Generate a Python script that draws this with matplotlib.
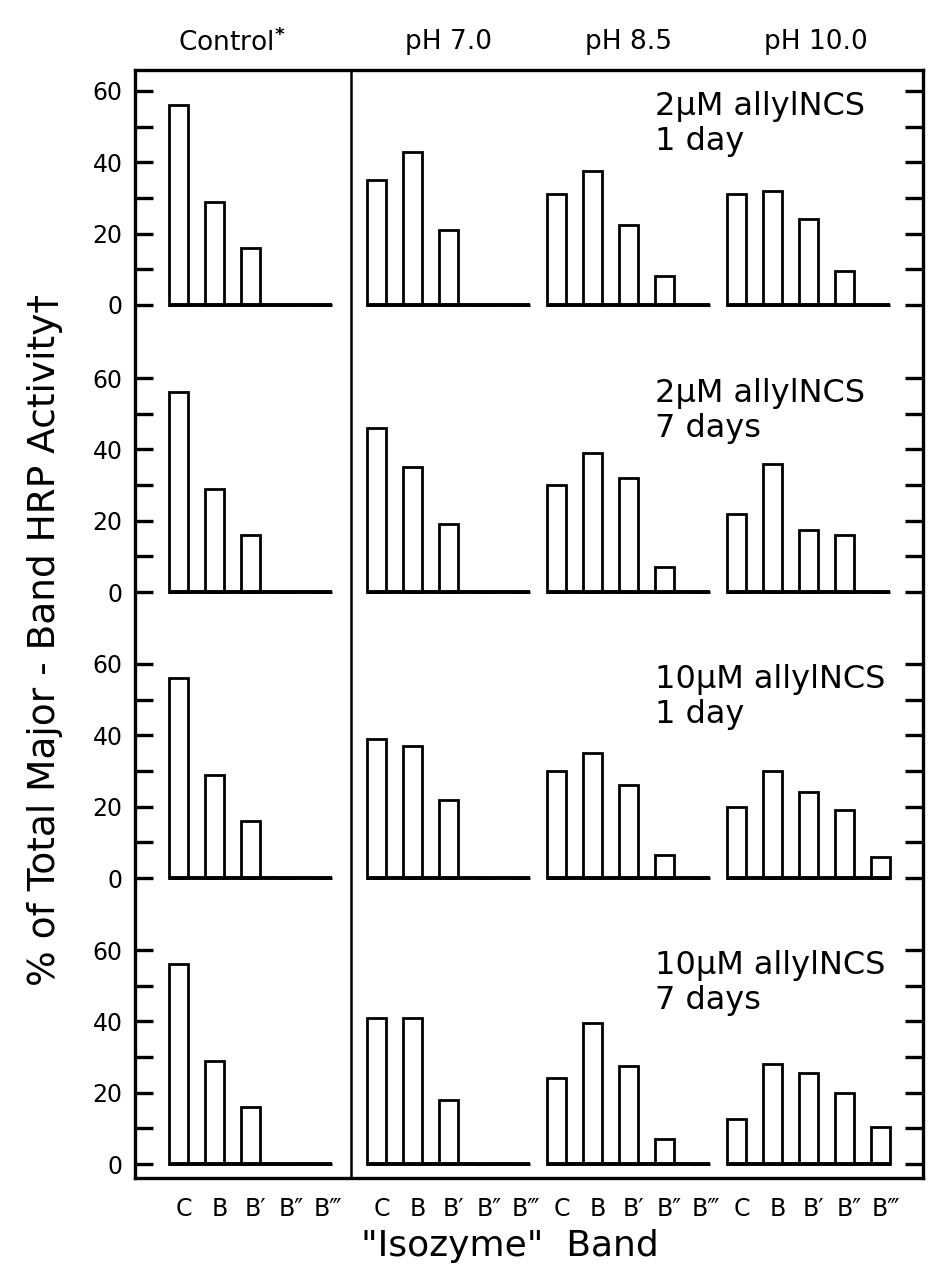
import numpy as np
import matplotlib.pyplot as plt
from matplotlib.transforms import blended_transform_factory

# band labels and column headers
bands = ["C", "B", "B\u2032", "B\u2033", "B\u2034"]
columns = ["Control$^{\\mathbf{*}}$", "pH 7.0", "pH 8.5", "pH 10.0"]
treatments = ["2\u03bcM allylNCS\n1 day", "2\u03bcM allylNCS\n7 days",
              "10\u03bcM allylNCS\n1 day", "10\u03bcM allylNCS\n7 days"]

# % of total major-band HRP activity, order C, B, B', B'', B'''
# control is the same in every row
control = [56, 29, 16, 0, 0]
# one row per treatment (same order as treatments)
ph70 = [[35, 43, 21, 0, 0],
        [46, 35, 19, 0, 0],
        [39, 37, 22, 0, 0],
        [41, 41, 18, 0, 0]]
ph85 = [[31, 37.5, 22.5, 8, 0],
        [30, 39, 32, 7, 0],
        [30, 35, 26, 6.5, 0],
        [24, 39.5, 27.5, 7, 0]]
ph100 = [[31, 32, 24, 9.5, 0],
         [22, 36, 17.5, 16, 0],
         [20, 30, 24, 19, 6],
         [12.5, 28, 25.5, 20, 10.5]]

W, H = 930, 1270
frame_l, frame_r, frame_t, frame_b = 135, 923, 70, 1178
row_zero = [305, 592, 878, 1164]   # pixel row of the 0 line in each panel
row_h = 214                        # pixels for 0..60
slot = 36.0                        # pixels per band slot
n_slots = (frame_r - frame_l) / slot
group_start = [1.2, 6.7, 11.7, 16.7]
header_x = [2.7, 8.7, 13.7, 18.9]
divider = 6.0
bar_w = 0.52


def fig_rect(l, t, r, b):
    return [l / W, 1 - b / H, (r - l) / W, (b - t) / H]


fig = plt.figure(figsize=(W / 100, H / 100), dpi=100)
fig.patch.set_facecolor("white")

# outer box with the divider after the control column
frame = fig.add_axes(fig_rect(frame_l, frame_t, frame_r, frame_b))
frame.set_xlim(0, n_slots)
frame.set_ylim(0, 1)
frame.set_xticks([])
frame.set_yticks([])
for s in frame.spines.values():
    s.set_linewidth(2.4)
frame.axvline(divider, color="black", lw=1.8)

trans = blended_transform_factory(frame.transData, frame.transAxes)
for g, name in enumerate(columns):
    frame.text(header_x[g], 1.025, name, transform=trans,
               ha="center", va="center", fontsize=19)

for i in range(4):
    z = row_zero[i]
    ax = fig.add_axes(fig_rect(frame_l, z - row_h, frame_r, z))
    ax.patch.set_alpha(0)
    ax.set_xlim(0, n_slots)
    ax.set_ylim(0, 60)
    for s in ax.spines.values():
        s.set_visible(False)

    groups = [control, ph70[i], ph85[i], ph100[i]]
    for g, vals in enumerate(groups):
        x = group_start[g] + np.arange(len(bands))
        ax.bar(x, vals, width=bar_w, facecolor="white", edgecolor="black",
               linewidth=2.0, clip_on=False)
        ax.plot([x[0] - bar_w / 2, x[-1] + bar_w / 2], [0, 0], color="black",
                lw=2.8, solid_capstyle="butt", clip_on=False)

    ax.set_yticks([0, 20, 40, 60])
    ax.set_yticks([10, 30, 50], minor=True)
    ax.tick_params(axis="y", which="both", direction="in", length=13,
                   width=2.4, left=True, right=True, labelsize=17, pad=9)

    if i == 3:
        centers = np.concatenate([group_start[g] + np.arange(len(bands))
                                  for g in range(4)])
        ax.set_xticks(centers + 0.15, bands * 4)
        ax.tick_params(axis="x", length=0, pad=24, labelsize=17)
    else:
        ax.set_xticks([])

    ax.text(0.66, 1.0, treatments[i], transform=ax.transAxes, ha="left",
            va="top", fontsize=23, linespacing=1.15)

fig.text(45 / W, 1 - 640 / H, "% of Total Major - Band HRP Activity\u2020",
         rotation=90, ha="center", va="center", fontsize=27)
fig.text(510 / W, 1 - 1246 / H, "\"Isozyme\"  Band", ha="center",
         va="center", fontsize=26)

fig.savefig("out.png", dpi=100)
